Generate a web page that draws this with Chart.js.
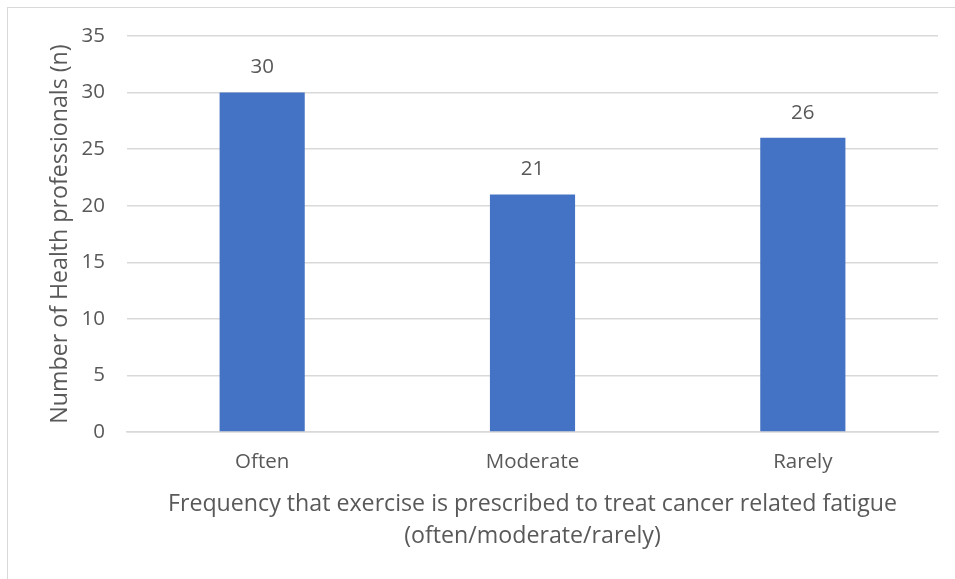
<!DOCTYPE html>
<html>
<head>
<meta charset="utf-8">
<script src="https://cdn.jsdelivr.net/npm/chart.js@4.4.1/dist/chart.umd.min.js"></script>
<style>
  html, body { margin: 0; padding: 0; background: #fff; overflow: hidden; }
  #wrap { position: relative; width: 955px; height: 579px; }
  #frame { position: absolute; left: 7px; top: 7px; width: 1000px; height: 700px; border: 1.5px solid #d9d9d9; box-sizing: border-box; }
  canvas { position: absolute; left: 0; top: 0; }
</style>
</head>
<body>
<div id="wrap">
  <div id="frame"></div>
  <canvas id="chart" width="955" height="579"></canvas>
</div>
<script>
const categories = ['Often', 'Moderate', 'Rarely'];
const counts = [30, 21, 26];
const yTicks = [0, 5, 10, 15, 20, 25, 30, 35];

const textColor = '#595959';
const fontFamily = '"Open Sans", "Liberation Sans", sans-serif';

// fixed plot box like the original
const plotLeft = 127, plotTop = 36, plotBottom = 432, plotRight = 938;

const barLabels = {
  id: 'barLabels',
  afterDatasetsDraw(chart) {
    const ctx = chart.ctx;
    ctx.save();
    ctx.font = '20.5px ' + fontFamily;
    ctx.fillStyle = textColor;
    ctx.textAlign = 'center';
    ctx.textBaseline = 'middle';
    chart.getDatasetMeta(0).data.forEach((bar, i) => {
      ctx.fillText(String(counts[i]), bar.x, bar.y - 25);
    });
    ctx.restore();
  }
};

new Chart(document.getElementById('chart'), {
  type: 'bar',
  data: {
    labels: categories,
    datasets: [{
      data: counts,
      backgroundColor: '#4472c4',
      categoryPercentage: 1,
      barPercentage: 0.315
    }]
  },
  options: {
    responsive: false,
    animation: false,
    layout: { padding: { left: 0, top: plotTop, right: 955 - plotRight, bottom: 0 } },
    plugins: { legend: { display: false }, tooltip: { enabled: false } },
    scales: {
      x: {
        grid: { display: false, drawTicks: false },
        border: { display: true, color: '#d9d9d9', width: 1.5 },
        ticks: { color: textColor, font: { family: fontFamily, size: 20.5 }, padding: 18 },
        title: {
          display: true,
          text: ['Frequency that exercise is prescribed to treat cancer related fatigue', '(often/moderate/rarely)'],
          color: textColor,
          font: { family: fontFamily, size: 23.2, lineHeight: 1.38 },
          padding: { top: 0, bottom: 27 }
        },
        afterFit(scale) { scale.height = 579 - plotBottom; }
      },
      y: {
        min: 0,
        max: 35,
        afterBuildTicks(scale) { scale.ticks = yTicks.map(v => ({ value: v })); },
        grid: { color: '#d9d9d9', lineWidth: 1.5, drawTicks: false },
        border: { display: false },
        ticks: { color: textColor, font: { family: fontFamily, size: 20.5 }, padding: 22 },
        title: {
          display: true,
          text: 'Number of Health professionals (n)',
          color: textColor,
          font: { family: fontFamily, size: 23.2, lineHeight: 1.2 },
          padding: { top: 46, bottom: 0 }
        },
        afterFit(scale) { scale.width = plotLeft; }
      }
    }
  },
  plugins: [barLabels]
});
</script>
</body>
</html>
